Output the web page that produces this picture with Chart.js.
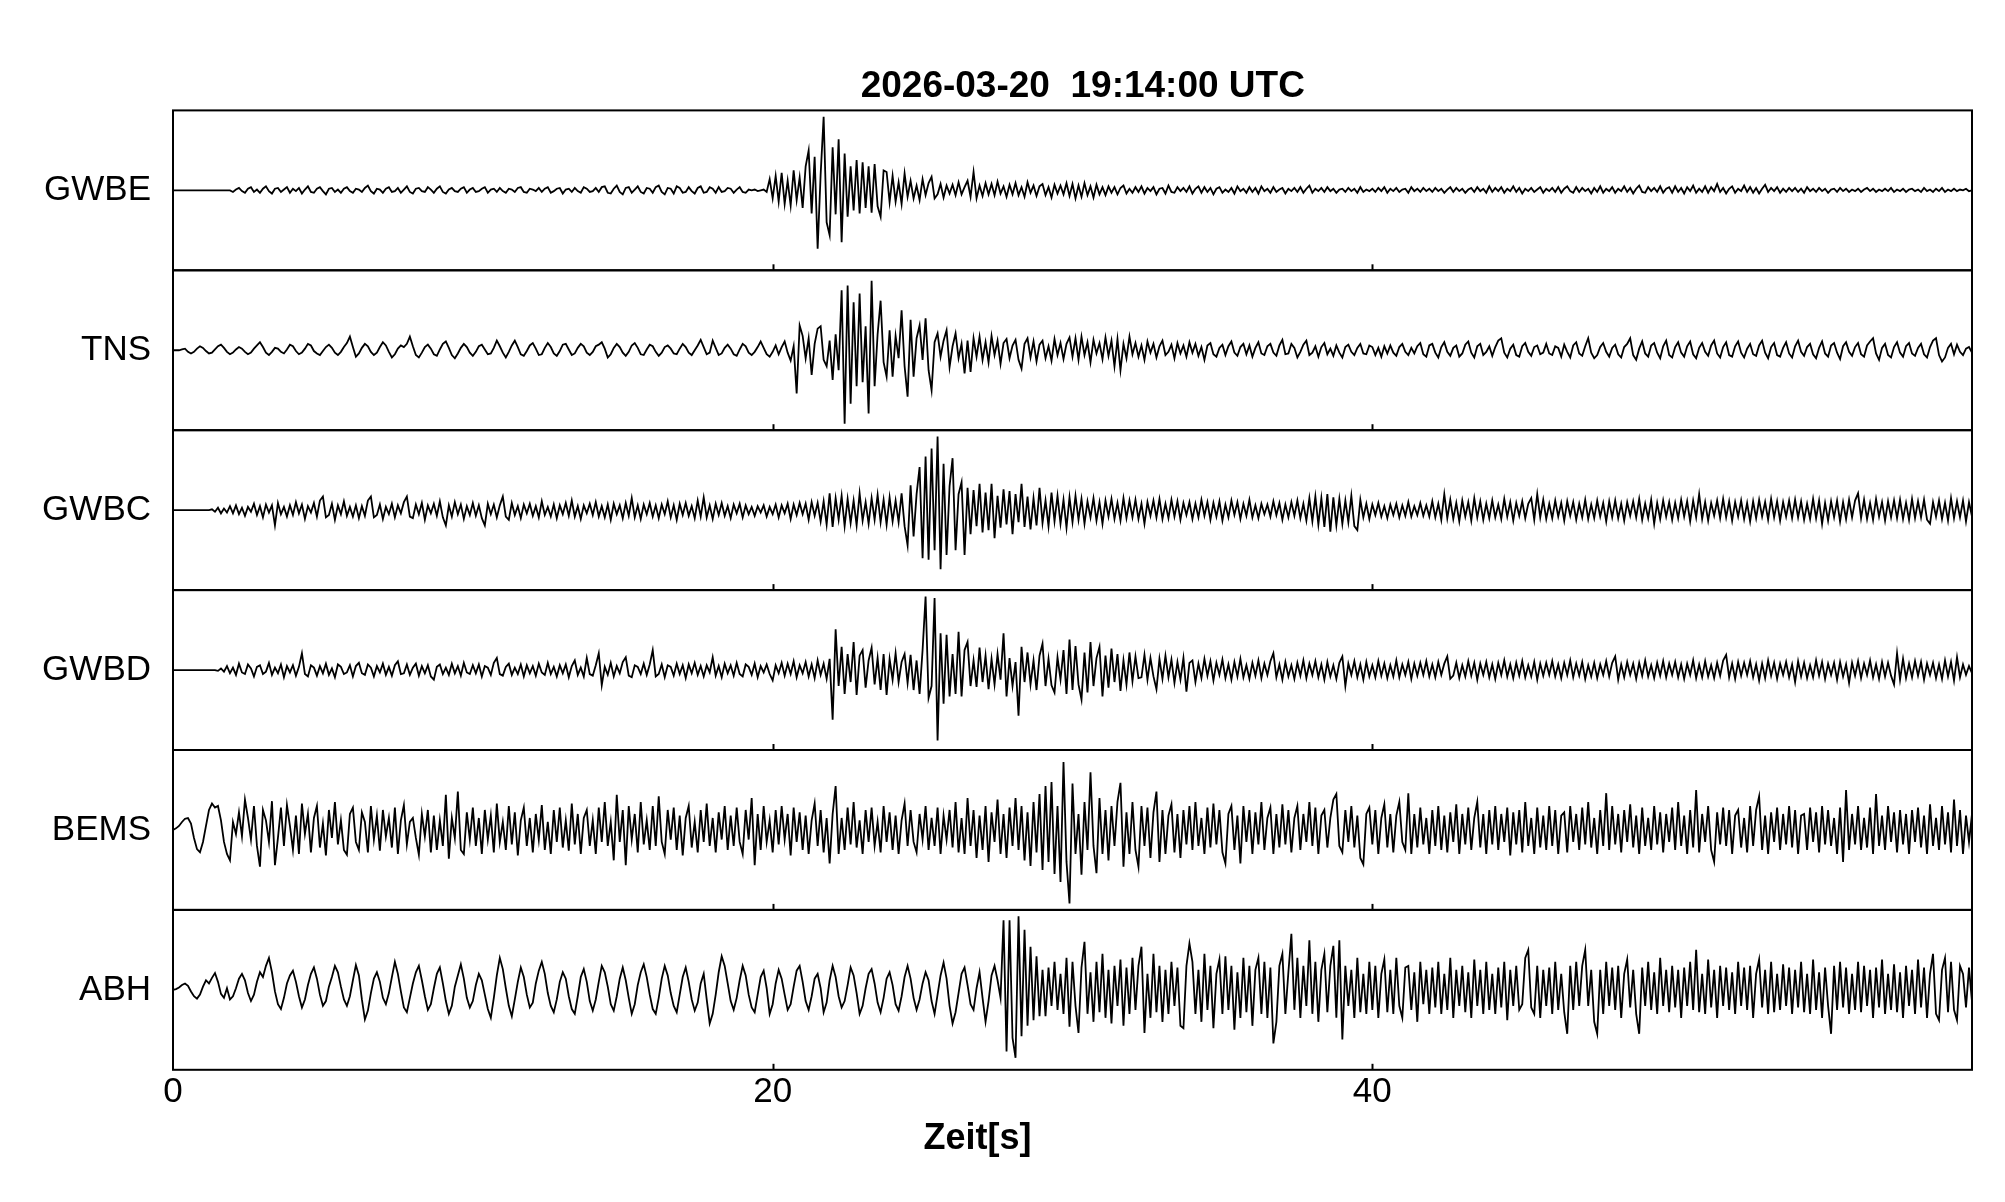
<!DOCTYPE html>
<html>
<head>
<meta charset="utf-8">
<script src="https://cdn.jsdelivr.net/npm/chart.js@4.4.1/dist/chart.umd.min.js"></script>
<style>
  html, body { margin: 0; padding: 0; background: #fff; }
  #wrap { width: 2005px; height: 1202px; }
</style>
</head>
<body>
<div id="wrap"><canvas id="seismo"></canvas></div>
<script>
// station names, top to bottom
var stations = ["GWBE", "TNS", "GWBC", "GWBD", "BEMS", "ABH"];
var dt = 0.1;          // sample spacing in seconds
var xTicks = [0, 20, 40];
var titleText = "2026-03-20  19:14:00 UTC";
var xTitle = "Zeit[s]";

// amplitudes, scaled so +-100 fills a panel
var gwbe = [
0,0,0,0,0,0,0,0,0,0,0,0,0,0,0,0,0,0,0,0,
-2,1,3,-1,-3,2,4,-2,1,-3,2,5,-1,-4,2,3,-2,1,4,-3,
2,-1,3,-4,1,5,-2,-3,2,4,-1,-5,2,3,-2,1,-3,2,4,-1,
-3,2,1,-2,3,6,-1,-4,2,1,-3,2,4,-2,-1,3,-3,1,5,-2,
-4,2,3,-1,-2,4,1,-3,2,5,-2,-4,1,3,-1,-2,2,4,-3,1,
3,-2,-1,2,4,-3,1,2,-2,3,-1,-3,2,1,-2,3,4,-2,-3,2,
1,-1,3,-2,2,4,-3,-1,2,3,-4,1,2,-2,3,-1,-3,4,2,-2,
-1,3,-2,4,5,-3,-4,2,6,-2,-5,3,4,-3,1,5,-2,-4,3,2,
-3,4,6,-2,-5,3,2,-4,5,3,-3,-2,4,-1,-4,3,5,-3,-2,4,
2,-3,4,-2,-1,3,2,-3,1,4,-2,-3,1,0,1,-1,0,1,-2,14,
-10,18,-14,22,-17,12,-19,25,-12,16,-22,30,50,-29,42,-73,20,92,-40,-56,
54,-30,64,-65,46,-33,30,-25,38,-29,35,-22,30,-28,33,-20,-33,25,23,-15,
18,-14,10,-17,21,-8,12,-10,6,-12,14,-6,9,17,-10,-5,8,-9,6,-4,
7,-6,10,-5,4,12,-8,23,-10,6,-7,9,-5,8,-6,11,-4,5,-8,7,
-5,9,-6,4,-8,10,-3,6,-7,5,8,-6,4,-9,7,-4,6,-5,9,-7,
8,-10,6,-8,9,-6,5,-9,7,-5,4,-6,5,-3,4,-5,3,6,-4,2,
-3,4,-2,5,-4,3,-1,4,-5,2,3,-4,6,-2,-3,4,-1,3,-2,5,
-4,2,5,-3,4,-2,3,-5,2,4,-3,1,-2,3,-4,5,-1,2,-3,4,
-2,3,-4,5,-1,2,-3,4,-2,1,3,-4,2,-1,3,-2,4,-3,2,6,
-3,2,-1,3,-2,4,-1,2,-3,1,2,-2,3,-1,2,-3,4,-2,1,-1,
2,-2,3,-1,4,-3,2,-1,3,-2,1,2,-3,4,-1,2,-2,3,-1,2,
-2,3,-1,2,-3,1,4,-2,3,-1,2,-3,1,3,-2,4,-1,2,-3,5,
-2,3,-1,4,-3,2,-1,5,-2,3,-4,2,-1,3,-2,1,4,-3,2,-1,
3,-2,4,-3,2,5,-1,-3,4,-2,3,-1,2,-4,3,-2,5,-3,2,-1,
4,-3,2,-1,5,-2,3,-4,2,6,-2,-3,4,-1,3,-2,5,-3,2,4,
-3,5,-2,3,-4,4,-1,6,-3,2,-2,5,-3,4,-1,8,-2,3,-4,2,
5,-3,2,-1,6,-2,4,-3,3,-4,2,7,-2,3,-1,4,-3,2,-2,3,
-1,3,-2,2,-3,4,-1,2,-2,3,-1,2,-3,1,2,-2,3,-1,2,-2,
1,-1,2,-2,1,3,-1,2,-2,1,-1,2,-1,3,-2,1,-1,2,-2,1,
2,-1,1,-2,3,-1,1,-2,2,-1,3,-2,1,-1,2,-1,1,0,2,-1,
0];

var tns = [
0,0,0,1,2,-2,-4,-2,2,5,3,-1,-4,-3,1,5,7,3,-2,-5,
-3,1,4,2,-2,-5,-3,2,6,10,4,-3,-6,-2,3,2,-2,-4,1,7,
5,-1,-5,-3,2,8,6,-1,-4,-6,-1,4,7,3,-3,-6,-2,4,9,17,
4,-8,-4,3,8,5,-2,-6,-3,4,10,6,-2,-9,-5,2,6,4,8,17,
5,-6,-9,-3,4,7,2,-5,-7,1,8,11,3,-6,-10,-4,3,8,4,-3,
-7,-2,5,7,1,-5,-4,3,12,5,-3,-9,-2,6,12,4,-5,-7,-1,6,
9,2,-6,-5,3,9,4,-4,-7,-1,7,8,1,-6,-4,3,8,5,-3,-6,
-2,5,7,10,2,-9,-5,3,8,4,-3,-7,-2,6,9,3,-5,-6,1,7,
5,-2,-7,-3,4,6,2,-4,-5,2,8,4,-3,-6,0,6,13,4,-5,-3,
12,3,-6,-4,3,7,2,-5,-7,1,8,5,-3,-6,-2,4,11,3,-5,-8,
-2,6,-5,4,11,-3,-13,5,-54,31,18,-10,15,-31,8,27,30,-12,-20,12,
-37,20,-25,75,-92,81,-67,60,-45,71,-40,30,-79,87,-45,20,62,-15,-33,25,
-33,18,-10,50,-20,-58,38,-33,15,31,-12,40,-25,-50,10,21,-8,12,25,-21,
5,21,-10,8,-29,12,-27,15,-8,17,-12,10,-15,18,-6,12,-17,9,14,-10,
6,13,-12,-23,8,15,-9,11,-14,7,12,-10,5,-13,14,-6,9,-11,8,16,
-8,15,-12,17,-6,10,-15,13,-4,9,-11,16,-7,12,-20,14,-25,8,-10,17,
-5,9,-8,6,-12,11,-3,8,-9,5,12,-6,-2,7,-10,9,-4,6,-8,10,
-3,8,-7,4,-12,6,9,-5,-8,3,7,-6,5,11,-3,-7,4,8,-5,6,
-8,3,10,-4,-6,5,8,-3,-7,6,13,-5,-4,8,3,-9,-2,7,12,-6,
-3,5,-8,4,9,-5,2,-7,6,-3,-9,4,7,-2,-6,3,8,-4,-5,6,
4,-6,3,-8,5,-4,6,-3,-7,4,8,-2,-6,3,-4,5,9,-5,-8,6,
8,-3,-9,4,10,-2,-7,3,6,-8,-4,7,11,-3,-9,5,8,-6,-2,5,
-7,4,12,15,-3,-9,2,7,-6,-8,5,9,-2,-7,4,6,-5,-3,8,-4,
-6,5,3,-8,7,-2,-9,6,10,-4,-7,5,15,-3,-10,-6,4,9,-2,-8,
3,7,-5,-9,4,8,15,-6,-12,2,11,-4,-8,6,9,-3,-10,5,12,-6,
-9,4,10,-3,-8,5,11,-5,-10,3,9,-2,-7,6,12,-4,-9,4,10,-6,
-8,5,11,-3,-9,2,8,-5,-7,6,12,-3,-10,4,9,-6,-8,3,10,-4,
-9,5,12,-2,-7,4,8,-5,-10,3,11,-4,-8,6,9,-3,-11,5,10,-2,
-7,4,9,-5,-8,6,11,15,-4,-12,3,8,-6,-9,4,10,-3,-8,5,9,
-4,-7,3,8,-5,-9,4,12,15,-6,-14,-9,3,8,-5,7,-2,-6,2,4,
-3];

var gwbc = [
0,0,0,0,0,0,0,0,0,0,0,0,0,1,-2,3,-4,2,-3,5,
-4,6,-5,3,-7,4,-2,8,-6,5,-9,7,-3,6,-19,9,-5,4,-8,6,
-6,10,-4,7,-11,5,-3,9,-8,12,17,-9,-6,8,-12,6,-5,11,-7,4,
-8,6,-10,5,-7,12,17,-9,-6,7,-11,4,-5,8,-9,6,-4,10,17,-8,
-10,7,-5,9,-12,6,-4,8,-7,11,-9,-19,6,-8,10,-5,7,-11,5,-6,
9,-7,6,-10,-19,8,-5,7,-9,6,17,-8,-12,9,-6,5,-10,7,-4,8,
-7,5,-9,11,-6,4,-8,7,-10,6,-5,9,-7,12,-8,5,-11,6,-4,8,
-6,10,-8,5,-9,7,-12,8,-5,6,-10,9,-7,15,-9,6,-11,7,-5,9,
-8,6,-10,7,-5,11,-9,6,-12,8,-6,9,-7,5,-10,12,-8,16,-9,6,
-11,8,-6,9,-7,5,-10,7,-4,8,-9,6,-5,4,-7,5,-3,6,-8,4,
-5,7,-9,6,-4,8,-11,7,-6,9,-5,8,-12,10,-7,9,-14,11,-18,21,
-21,15,-12,18,-20,14,-16,12,-19,21,-13,10,-17,15,-12,19,-15,13,-18,16,
-14,12,-15,21,-20,-44,31,-33,20,54,-60,67,-62,77,-50,92,-74,58,-56,30,
65,-50,20,35,-56,28,-30,25,-20,33,-28,22,-25,33,-35,18,-22,26,-18,24,
-30,20,-15,33,-21,17,-24,15,-19,28,-16,12,-20,22,-14,18,-17,13,-22,16,
-15,18,-12,14,-17,11,-9,15,-13,10,-17,12,-8,14,-11,9,-13,15,-10,12,
-9,13,-11,8,-17,10,-7,12,-9,14,-11,8,-10,13,-8,11,-12,9,-6,10,
-11,8,-9,13,-7,10,-12,9,-8,11,-13,7,-9,12,-6,10,-11,8,-7,13,
-9,6,-10,8,-5,7,-8,11,-6,9,-12,7,-9,10,-7,12,-10,8,-13,15,
-14,17,-18,15,-21,20,-27,16,-19,14,-17,12,-15,18,-20,-25,13,-9,8,-11,
7,-6,9,-8,5,-10,7,-6,8,-9,6,-7,10,-8,5,-6,9,-7,6,-8,
11,-9,8,-12,20,-10,13,-11,9,-14,12,-8,10,-13,15,-9,11,-12,8,-10,
12,-9,7,-11,14,-8,10,-13,9,-7,11,-10,8,15,-12,20,-9,13,-11,8,
-10,12,-8,9,-13,11,-7,10,-12,8,-9,13,-11,7,-10,12,-8,9,-14,11,
-9,12,-10,8,-13,10,-7,11,-9,14,-12,8,-10,13,-17,9,-11,12,-8,10,
-12,9,-10,13,-8,11,-14,12,-9,20,-11,10,-13,9,-7,12,-10,14,-9,11,
-13,10,-8,12,-11,9,-14,11,-10,13,-8,10,-12,14,-9,11,-13,10,-8,12,
-10,13,-9,11,-12,8,-11,14,-10,12,-17,9,-13,11,-9,12,-14,10,-11,13,
-9,12,21,-10,13,-11,9,-12,14,-8,10,-13,11,-9,12,-10,13,-11,9,-12,
14,-10,11,-9,13,-12,-17,10,-8,12,-11,9,-13,15,-10,11,-9,12,-14,10,
-8];

var gwbd = [
0,0,0,0,0,0,0,0,0,0,0,0,0,0,0,-1,2,-2,5,-4,
3,-6,8,-3,-5,7,2,-8,4,6,-5,-2,9,-6,3,-4,7,-9,5,-3,
6,-7,4,21,-5,-8,6,3,-7,5,-4,8,-6,2,-9,7,4,-5,-3,6,
-8,5,9,-4,-6,7,3,-8,5,-3,8,-6,4,-7,6,11,-5,-4,7,-6,
3,8,-7,5,-4,6,-8,-12,4,7,-5,3,-6,8,-4,5,-7,9,-3,-5,
6,-4,7,-8,5,3,-6,9,15,-5,-7,4,8,-6,3,-5,7,-8,6,-4,
5,-7,8,-3,-6,9,-5,4,-8,6,-4,7,-9,5,12,-6,3,-8,15,-5,
-7,6,21,-19,4,-6,9,-8,5,-4,10,16,-7,-9,6,4,-5,8,-6,7,
25,-8,-5,7,-9,6,4,-7,8,-5,6,-10,7,-4,9,-6,5,-8,6,-3,
16,-7,5,-9,8,-4,6,-7,9,-5,-8,7,4,-6,8,-9,5,-3,7,-5,
-13,6,-4,9,-7,8,-5,11,-9,6,-4,10,-8,7,-10,12,-6,8,-11,14,
-62,51,-20,29,-30,20,-15,35,-31,18,25,-22,12,28,-18,15,-25,20,-31,14,
-12,21,-15,10,20,-16,19,-25,12,-30,25,92,-35,-20,90,-88,46,-42,44,-33,
20,-30,48,-33,25,35,-20,12,-21,28,-15,18,-24,14,-18,20,-12,46,-33,15,
-20,10,-57,29,-15,22,-18,12,-25,18,33,-20,14,-19,-28,16,-12,25,-30,38,
-25,30,-18,-37,22,-28,35,-20,15,29,-33,18,-22,27,-15,20,-26,12,-18,22,
-14,17,-10,-9,19,-12,15,-8,-24,14,-11,18,-9,13,-16,10,-12,15,-27,9,
12,-15,8,-10,14,-7,11,-13,9,-6,13,-10,7,-12,10,-8,14,-9,6,-11,
9,-7,12,-10,8,-6,11,21,-9,7,-12,10,-8,6,-11,9,-7,12,-10,8,
-6,11,-9,7,-12,10,-8,6,-11,9,17,-20,8,-6,11,-9,7,-12,10,-8,
6,-9,11,-7,8,-10,6,-8,12,-9,7,-6,10,-11,8,-7,9,-6,11,-8,
7,-9,10,-6,8,17,-11,-7,9,-10,6,-8,11,-7,9,-12,8,-6,10,-9,
7,-11,9,-6,12,-8,7,-10,9,-7,11,-9,6,-8,10,-12,8,-7,9,-6,
11,-8,7,-10,9,-6,12,-9,8,-7,10,-11,6,-8,9,-10,7,-6,11,-8,
9,17,-12,7,-9,10,-6,8,-11,9,-7,12,-8,6,-10,9,-7,11,-9,8,
-6,10,-9,7,-11,8,-6,12,-10,7,-9,11,-8,6,-10,9,-7,12,19,-9,
8,-11,10,-7,9,-6,11,-9,7,-13,8,-10,12,-7,9,-11,8,-6,10,-9,
7,-15,11,-8,9,-10,6,-9,12,-7,10,-11,8,-6,9,-12,10,-8,7,-16,
9,-7,11,-10,8,-6,12,-9,7,-11,10,-8,9,-7,-18,21,-12,14,-10,8,
-9,11,-7,10,-12,8,-6,9,-10,7,-11,12,-8,10,-13,16,-9,7,-6,5,
-4];

var bems = [
0,2,5,10,14,15,8,-10,-24,-28,-15,5,25,33,28,30,12,-15,-30,-38,
10,-5,22,-8,38,15,-12,30,-20,-46,25,12,-15,36,-44,-10,28,-20,31,5,
-25,18,-30,33,-5,20,-28,15,30,-22,8,-32,25,-10,35,-18,12,-25,-31,20,
28,-15,-25,22,10,-28,30,-12,18,-26,25,-8,15,-22,28,-30,12,31,-18,10,
15,-10,-31,20,-8,25,-28,18,-25,12,-20,44,-36,15,-10,48,-25,-30,22,-12,
28,-20,15,-30,25,-12,18,-28,33,-15,10,-25,30,-18,22,-32,12,28,-20,15,
-28,20,-12,31,-25,10,-30,25,-15,28,-22,12,-26,33,-18,20,-30,15,25,-20,
12,-30,28,-15,35,-20,10,-38,44,-15,25,-44,30,-12,20,-28,35,-18,12,-25,
30,-20,42,-15,-30,25,-12,28,-25,18,-32,15,30,-22,10,-28,25,-15,33,-20,
15,-28,22,-12,30,-25,18,-20,28,-15,-30,25,-12,40,-44,20,-25,30,-15,12,
-28,25,-18,30,-12,20,-32,28,-15,22,-25,18,-30,12,33,-20,25,-28,15,-42,
20,55,-30,15,-25,28,-18,35,-22,12,-30,25,-15,28,-20,10,-28,30,-15,22,
-25,18,-30,12,33,-20,25,-15,-28,20,-12,30,-25,15,-20,28,-30,18,-12,25,
-22,35,-28,15,-30,40,-20,25,-35,18,-25,30,-40,22,-15,38,-30,20,-35,28,
-20,40,-25,30,-38,22,-45,35,-28,45,-50,55,-40,60,-55,30,-65,85,-40,-92,
58,-30,20,-56,35,-25,72,-20,-54,40,-30,25,-38,30,-20,35,59,-46,22,-30,
35,-25,-46,30,-20,28,-35,22,48,-40,25,-30,18,32,-28,20,-35,25,-18,30,
-25,35,-20,15,-30,28,-22,33,-18,25,-28,-42,20,30,-25,18,-42,30,-15,25,
-30,22,-18,35,-25,15,28,-30,20,-22,32,-18,25,-28,15,30,-25,20,-15,35,
-20,28,-30,18,25,-22,15,38,45,-20,-28,25,-15,30,-22,18,-35,-43,20,28,
-18,25,-30,15,32,-22,20,-28,18,35,-15,-25,46,-30,20,-22,28,-18,15,-30,
25,-20,30,-25,18,-28,22,-15,32,-30,20,-18,28,-25,15,35,-22,20,-30,25,
-18,30,-25,20,-15,28,-32,22,-18,25,-28,35,-20,15,-30,28,-22,18,-25,30,
-20,25,-30,18,22,-28,30,-15,20,-25,28,-18,35,-22,15,-30,25,-20,46,-25,
30,-18,20,-28,25,-15,32,-22,18,-30,28,-20,15,-25,30,-18,22,-28,20,-15,
28,-25,35,-20,18,-30,25,-22,50,-28,20,-15,30,-25,-40,22,-18,28,-20,25,
-30,18,25,-22,15,-28,30,-20,25,42,-25,18,-30,22,-15,28,-25,20,-18,30,
-22,25,-30,18,20,-25,28,-15,22,-28,30,-18,25,-20,15,-30,28,-40,50,-25,
20,-18,30,-25,15,-22,28,-30,45,-20,18,-25,30,-15,22,-28,25,-18,20,-30,
25,-15,28,-22,18,-30,32,-20,15,-25,30,-18,22,-28,38,-20,25,-30,18,-15,
20];

var abh = [
0,1,3,6,8,5,-2,-8,-11,-6,4,12,8,15,21,10,-5,-10,2,-12,
-8,2,14,20,12,-4,-14,-6,10,22,16,30,40,22,-2,-18,-24,-10,8,18,
24,10,-8,-22,-12,6,20,28,14,-6,-20,-14,4,16,30,22,4,-12,-20,-8,
12,31,18,-12,-37,-26,-4,14,22,10,-10,-18,-4,16,35,20,-2,-22,-28,-10,
8,22,30,12,-8,-25,-18,2,20,28,8,-14,-30,-20,4,18,32,14,-10,-22,
-14,6,20,12,-6,-24,-35,-10,18,40,26,2,-20,-33,-12,10,28,16,-6,-22,
-16,8,24,35,20,-4,-20,-28,-12,10,22,14,-8,-24,-30,-8,16,26,10,-14,
-26,-12,10,30,22,4,-18,-26,-8,14,28,12,-10,-30,-18,6,22,32,16,-6,
-24,-30,-10,14,30,18,-4,-20,-28,-6,16,28,10,-12,-26,-16,8,20,-12,-42,
-30,-6,22,42,30,8,-14,-25,-10,12,30,18,-6,-22,-28,-6,16,24,2,-30,
-18,8,25,14,-6,-25,-18,4,24,30,10,-14,-25,-8,14,20,2,-28,-16,12,
30,16,-8,-22,-14,6,28,18,-4,-30,-20,2,20,26,8,-16,-28,-10,14,22,
6,-18,-26,-8,16,30,14,-10,-25,-12,8,22,12,-14,-30,-6,18,34,14,-20,
-42,-28,-4,20,28,6,-18,-25,2,22,-10,-40,-14,18,30,12,-10,87,-77,87,
-60,-85,92,-58,75,-45,54,-38,42,-33,25,-33,28,-20,35,-25,20,-30,40,-46,
35,-20,-54,28,60,-30,22,-40,35,-28,45,-35,25,-42,30,-20,38,-45,28,-30,
40,-25,30,54,-54,20,-35,45,-28,30,-40,25,-30,35,-20,28,-45,-48,30,58,
35,-30,25,-40,45,-25,30,-48,20,38,-30,42,-25,30,-50,22,-35,40,-28,30,
-45,25,40,-30,35,-35,28,-67,-40,30,45,-30,22,70,-25,40,-35,30,-20,62,
-30,35,-40,25,45,-28,30,55,-35,62,-62,30,-20,25,-35,40,-28,20,-30,35,
-25,30,-35,20,38,-28,25,-30,40,-20,-35,28,30,-25,22,-40,35,-18,25,-30,
28,-22,35,-30,20,-25,40,-35,25,-20,30,-28,22,-35,38,-20,25,-30,35,-25,
20,-30,28,-22,35,-38,25,-20,30,-25,-18,40,50,-22,-30,30,-35,25,-20,28,
-30,35,-25,20,-28,-55,30,-25,35,-20,30,50,-20,25,-40,-55,25,-30,35,-20,
28,-25,30,-35,20,38,-22,25,-30,-55,28,-20,35,-25,22,-30,40,-20,25,-28,
30,-22,25,-35,28,-20,35,-25,50,-28,20,-30,38,-22,25,-35,30,-20,28,-25,
22,-30,35,-20,28,-25,30,-35,20,38,-22,25,-30,35,-28,20,-25,32,-20,28,
-30,25,-22,35,-28,20,-30,38,-25,22,-35,28,-20,-55,30,-25,35,-22,28,-30,
20,-25,35,-28,30,-20,25,-35,28,-22,38,-30,20,-25,32,-28,22,-35,30,-20,
25,-30,38,-22,28,-35,20,45,-30,-38,25,40,-28,35,-25,-38,30,20,-22,28,
-15];

var traces = [gwbe, tns, gwbc, gwbd, bems, abh];

var FONT = "'Liberation Sans', Arial, Helvetica, sans-serif";
Chart.defaults.font.family = FONT;
Chart.defaults.color = '#000';

var datasets = [];
var scales = {
    x: {
        type: 'linear',
        min: 0,
        max: 60,
        afterBuildTicks: function(s) { s.ticks = xTicks.map(function(v) { return { value: v }; }); },
        ticks: { font: { size: 35 }, color: '#000', padding: 2, maxRotation: 0 },
        grid: { display: false, drawTicks: false, tickLength: 0 },
        border: { display: false },
        title: {
            display: true,
            // trailing blanks pull the centred label left, as in the original
            text: xTitle + '                   ',
            font: { size: 36, weight: 'bold' },
            color: '#000',
            padding: { top: 2, bottom: 0 }
        }
    }
};

stations.forEach(function(name, i) {
    var id = 'y' + i;
    datasets.push({
        label: name,
        data: traces[i].map(function(v, k) { return { x: k * dt, y: v }; }),
        yAxisID: id,
        borderColor: '#000',
        borderWidth: 1.8,
        pointRadius: 0,
        tension: 0,
        fill: false
    });
    scales[id] = {
        type: 'linear',
        position: 'left',
        stack: 'traces',
        stackWeight: 1,
        weight: stations.length - i,
        min: -100,
        max: 100,
        grid: { display: false, drawTicks: false, tickLength: 0 },
        border: { display: false },
        afterBuildTicks: function(s) { s.ticks = [{ value: 0 }]; },
        afterFit: function(s) { s.width = 140; },
        ticks: {
            font: { size: 35 },
            color: '#000',
            padding: 22,
            callback: function() { return name; }
        }
    };
});

// panel frames and the small time ticks at each panel's bottom edge
var framePlugin = {
    id: 'frames',
    afterDraw: function(chart) {
        var ctx = chart.ctx, area = chart.chartArea, xs = chart.scales.x;
        ctx.save();
        ctx.strokeStyle = '#000';
        ctx.lineWidth = 2;
        stations.forEach(function(name, i) {
            var s = chart.scales['y' + i];
            ctx.strokeRect(area.left, s.top, area.right - area.left, s.bottom - s.top);
            [20, 40].forEach(function(v) {
                var px = Math.round(xs.getPixelForValue(v)) + 0.5;
                ctx.beginPath();
                ctx.moveTo(px, s.bottom);
                ctx.lineTo(px, s.bottom - 6);
                ctx.stroke();
            });
        });
        ctx.restore();
    }
};

new Chart(document.getElementById('seismo'), {
    type: 'line',
    data: { datasets: datasets },
    options: {
        responsive: true,
        maintainAspectRatio: false,
        animation: false,
        devicePixelRatio: 1,
        layout: { padding: { left: 33, right: 33, top: 0, bottom: 41 } },
        plugins: {
            legend: { display: false },
            tooltip: { enabled: false },
            title: {
                display: true,
                // two leading blanks nudge the centred title right, as in the original
                text: '  ' + titleText,
                fullSize: false,
                color: '#000',
                font: { size: 37, weight: 'bold' },
                padding: { top: 65, bottom: 1 }
            }
        },
        scales: scales
    },
    plugins: [framePlugin]
});
</script>
</body>
</html>
